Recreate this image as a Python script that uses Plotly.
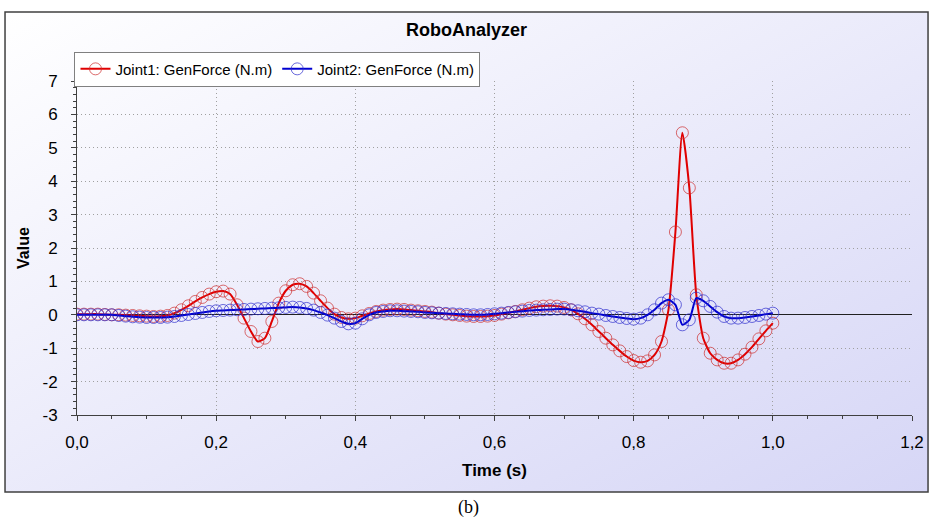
import base64
import plotly.graph_objects as go

time_s = [round(i * 0.01, 2) for i in range(101)]

joint1 = [
    0.02, 0.02, 0.02, 0.02, 0.01, 0.00, 0.00, -0.01, -0.02, -0.03,
    -0.04, -0.05, -0.04, -0.02, 0.05, 0.15, 0.27, 0.40, 0.52, 0.62,
    0.69, 0.71, 0.62, 0.30, -0.10, -0.50, -0.80, -0.70, -0.20, 0.35,
    0.72, 0.90, 0.93, 0.85, 0.65, 0.42, 0.20, 0.02, -0.08, -0.12,
    -0.10, -0.03, 0.04, 0.10, 0.14, 0.16, 0.17, 0.16, 0.14, 0.12,
    0.10, 0.08, 0.05, 0.02, 0.00, -0.02, -0.04, -0.05, -0.05, -0.04,
    -0.02, 0.02, 0.06, 0.10, 0.15, 0.20, 0.24, 0.26, 0.27, 0.26,
    0.22, 0.15, 0.03, -0.12, -0.30, -0.50, -0.70, -0.90, -1.08, -1.25,
    -1.37, -1.42, -1.38, -1.20, -0.80, 0.15, 2.48, 5.45, 3.80, 0.60,
    -0.70, -1.15, -1.35, -1.45, -1.45, -1.35, -1.18, -0.97, -0.72, -0.48,
    -0.25,
]

joint2 = [
    0.00, 0.00, 0.00, 0.00, 0.00, 0.00, -0.02, -0.04, -0.06, -0.07,
    -0.08, -0.08, -0.08, -0.07, -0.05, -0.02, 0.01, 0.04, 0.07, 0.10,
    0.12, 0.13, 0.14, 0.15, 0.16, 0.17, 0.18, 0.19, 0.20, 0.21,
    0.22, 0.23, 0.22, 0.19, 0.14, 0.07, -0.01, -0.10, -0.20, -0.27,
    -0.25, -0.12, 0.00, 0.07, 0.10, 0.12, 0.12, 0.11, 0.10, 0.09,
    0.07, 0.06, 0.05, 0.04, 0.03, 0.02, 0.01, 0.00, 0.00, 0.01,
    0.03, 0.05, 0.07, 0.09, 0.11, 0.13, 0.14, 0.15, 0.16, 0.17,
    0.17, 0.15, 0.12, 0.09, 0.05, 0.02, -0.02, -0.05, -0.08, -0.11,
    -0.13, -0.10, 0.00, 0.15, 0.35, 0.45, 0.30, -0.30, -0.15, 0.50,
    0.42, 0.25, 0.08, -0.05, -0.10, -0.10, -0.08, -0.05, -0.02, 0.02,
    0.05,
]

x_ticks = [0.0, 0.2, 0.4, 0.6, 0.8, 1.0, 1.2]
x_tick_labels = ["0,0", "0,2", "0,4", "0,6", "0,8", "1,0", "1,2"]
y_ticks = [-3, -2, -1, 0, 1, 2, 3, 4, 5, 6, 7]
y_tick_labels = ["-3", "-2", "-1", "0", "1", "2", "3", "4", "5", "6", "7"]

FONT = "Liberation Sans, Arial, sans-serif"

fig = go.Figure()
fig.add_trace(go.Scatter(
    x=time_s, y=joint1, mode="lines+markers", name="Joint1: GenForce (N.m)",
    line=dict(color="#e00000", width=2, shape="spline", smoothing=0.6),
    marker=dict(symbol="circle-open", size=12, color="rgba(205,45,45,0.7)",
                line=dict(width=1)),
))
fig.add_trace(go.Scatter(
    x=time_s, y=joint2, mode="lines+markers", name="Joint2: GenForce (N.m)",
    line=dict(color="#0000d0", width=2, shape="spline", smoothing=0.6),
    marker=dict(symbol="circle-open", size=12, color="rgba(45,45,205,0.7)",
                line=dict(width=1)),
))

svg = ('<svg xmlns="http://www.w3.org/2000/svg" width="100" height="100" preserveAspectRatio="none">'
       '<defs><linearGradient id="g" x1="0" y1="0" x2="1" y2="1">'
       '<stop offset="0" stop-color="#ffffff"/><stop offset="1" stop-color="#d6d6f6"/>'
       '</linearGradient></defs><rect width="100" height="100" fill="url(#g)"/></svg>')
src = "data:image/svg+xml;base64," + base64.b64encode(svg.encode()).decode()

fx0, fx1 = -0.0862, 1.0192
fy0, fy1 = -0.2305, 1.2066

fig.add_layout_image(dict(
    source=src, xref="paper", yref="paper", x=fx0, y=fy1,
    sizex=fx1 - fx0, sizey=fy1 - fy0, sizing="stretch",
    xanchor="left", yanchor="top", layer="below",
))
fig.add_shape(type="rect", xref="paper", yref="paper", x0=fx0, x1=fx1, y0=fy0, y1=fy1,
              line=dict(color="#404040", width=1.5), fillcolor="rgba(0,0,0,0)", layer="below")

fig.add_annotation(text="(b)", xref="paper", yref="paper", x=0.469, y=-0.278,
                   showarrow=False, xanchor="center", yanchor="middle",
                   font=dict(family="Liberation Serif, Times New Roman, serif", size=18, color="#000"))

fig.update_layout(
    width=933, height=523,
    margin=dict(l=77, r=21, t=81, b=108, autoexpand=False),
    paper_bgcolor="white", plot_bgcolor="white",
    font=dict(family=FONT, color="#000"),
    title=dict(text="<b>RoboAnalyzer</b>", x=0.5, xref="container", xanchor="center",
               y=1 - 30 / 523, yanchor="middle", font=dict(size=18, family=FONT)),
    showlegend=True,
    legend=dict(orientation="h", x=-0.003, y=1.088, xanchor="left", yanchor="top",
                bgcolor="white", bordercolor="#808080", borderwidth=1,
                font=dict(size=15, family=FONT), itemwidth=30, tracegroupgap=0),
    xaxis=dict(
        range=[0, 1.2], tickvals=x_ticks, ticktext=x_tick_labels, automargin=False,
        showgrid=True, gridcolor="#a0a0a0", griddash="1px,3px", gridwidth=1,
        showline=True, linecolor="#404040", linewidth=1,
        ticks="outside", ticklen=5, tickcolor="#404040",
        minor=dict(dtick=0.05, ticks="outside", ticklen=3, tickcolor="#404040", showgrid=False),
        tickfont=dict(size=17), zeroline=False, ticklabelstandoff=7,
        title=dict(text="<b>Time (s)</b>", font=dict(size=17), standoff=12),
    ),
    yaxis=dict(
        range=[-3, 7], tickvals=y_ticks, ticktext=y_tick_labels, automargin=False,
        showgrid=True, gridcolor="#a0a0a0", griddash="1px,3px", gridwidth=1,
        showline=True, linecolor="#404040", linewidth=1,
        ticks="outside", ticklen=5, tickcolor="#404040",
        minor=dict(dtick=0.2, ticks="outside", ticklen=3, tickcolor="#404040", showgrid=False),
        tickfont=dict(size=17), ticklabelstandoff=10,
        zeroline=True, zerolinecolor="#202020", zerolinewidth=1,
        title=dict(text="<b>Value</b>", font=dict(size=16), standoff=8),
    ),
)

fig.write_html("out.html", config={"displayModeBar": False},
               post_script="document.body.style.margin='0px';")
